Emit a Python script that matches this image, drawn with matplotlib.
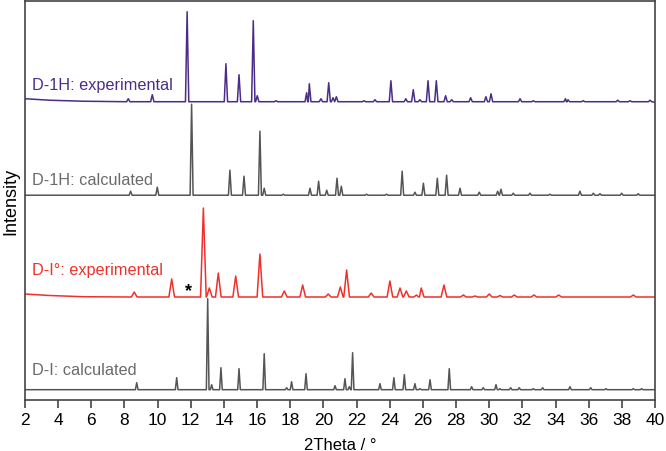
import numpy as np
import matplotlib.pyplot as plt

plt.rcParams['font.family'] = ['Liberation Sans', 'DejaVu Sans']

# ---- peak lists (2theta, height above baseline) ----
# D-1H experimental (purple)
d1h_exp_pos = [8.23, 9.68, 11.78, 14.12, 14.91, 15.77, 16.01, 17.14, 18.99, 19.15,
               19.85, 20.32, 20.58, 20.78, 22.45, 23.11, 24.07, 24.97, 25.42, 25.82,
               26.31, 26.81, 27.37, 27.74, 28.88, 29.80, 30.11, 31.86, 32.66, 34.60,
               34.75, 35.67, 37.75, 38.49, 39.70]
d1h_exp_h = [3, 7, 90, 38, 27, 81, 6, 1, 9, 18,
             3, 19, 4, 5, 1, 2, 21, 3, 12, 2,
             21, 21, 6, 2, 4, 5, 8, 3, 1, 3,
             2, 1, 1.5, 1, 1.5]
d1h_exp_bg_x = [2.0, 3.5, 5.5, 40.0]
d1h_exp_bg_y = [3.0, 1.5, 0.5, -0.5]

# D-1H calculated (grey)
d1h_calc_pos = [8.37, 9.98, 12.05, 14.36, 15.21, 16.17, 16.43, 17.58, 19.19, 19.71,
                20.20, 20.82, 21.08, 22.60, 23.81, 24.75, 25.52, 26.03, 26.87, 27.43,
                28.24, 29.40, 30.51, 30.71, 31.45, 32.46, 33.66, 35.47, 36.28, 36.68,
                37.99, 38.99]
d1h_calc_h = [4, 8, 91, 25, 19, 64, 7, 1, 7, 14,
              5, 17, 9, 1, 1, 24, 3, 12, 17, 20,
              7, 3, 4, 6, 2, 2, 1, 4, 2, 1.5,
              2, 1.5]

# D-I° experimental (red)
di_exp_pos = [8.59, 10.85, 12.76, 13.12, 13.66, 14.71, 16.17, 17.64, 18.75, 20.29,
              21.02, 21.40, 22.88, 24.01, 24.62, 25.00, 25.62, 25.90, 27.27, 28.44,
              29.14, 30.00, 30.65, 31.51, 32.70, 34.19, 38.69]
di_exp_h = [5, 18, 89, 9, 24, 21, 43, 6, 12, 3,
            10, 27, 4, 16, 9, 6, 2, 9, 12, 2,
            1, 3, 1.5, 2, 2, 2, 2]
di_exp_bg_x = [2.0, 3.5, 5.5, 40.0]
di_exp_bg_y = [3.0, 1.5, 0.3, 0.0]

# D-I calculated (grey)
di_calc_pos = [8.74, 11.15, 13.02, 13.26, 13.82, 14.91, 16.43, 17.78, 18.08, 18.95,
               20.70, 21.30, 21.56, 21.76, 23.41, 24.25, 24.88, 25.52, 25.82, 26.43,
               27.59, 28.94, 29.64, 30.41, 30.65, 31.29, 31.81, 32.66, 33.22, 34.87,
               36.12, 37.04, 38.69, 39.19]
di_calc_h = [7, 12, 91, 5, 22, 21, 36, 2, 8, 16,
             4, 11, 3, 37, 6, 12, 15, 6, 1, 10,
             21, 3, 2, 5, 1, 2, 2, 1, 2, 3,
             2, 1, 1, 1]

labels = ["D-1H: experimental", "D-1H: calculated", "D-I\u00b0: experimental", "D-I: calculated"]
baselines = [298, 204.5, 102.7, 10]
colors = ["#4b2d88", "#555555", "#f0302a", "#555555"]
text_colors = ["#4b2d88", "#6a6a6a", "#f0302a", "#6a6a6a"]
label_y = [315.5, 220.5, 130.5, 30.5]


def trace(pos, hts, base, w, bg_x=None, bg_y=None):
    pts = []
    for p, h in zip(pos, hts):
        pts += [(p - w, base), (p, base + h), (p + w, base)]
    if bg_x is None:
        bg_x, bg_y = [2.0, 40.0], [0.0, 0.0]
    for bx, by in zip(bg_x, bg_y):
        pts.append((bx, base + by))
    pts.sort()
    return [q[0] for q in pts], [q[1] for q in pts]


fig = plt.figure(figsize=(6.66, 4.52), dpi=100)
ax = fig.add_axes([0.0375, 0.1135, 0.946, 0.882])

series = [
    trace(d1h_exp_pos, d1h_exp_h, baselines[0], 0.10, d1h_exp_bg_x, d1h_exp_bg_y),
    trace(d1h_calc_pos, d1h_calc_h, baselines[1], 0.09),
    trace(di_exp_pos, di_exp_h, baselines[2], 0.17, di_exp_bg_x, di_exp_bg_y),
    trace(di_calc_pos, di_calc_h, baselines[3], 0.08),
]

for (xs, ys), c in zip(series, colors):
    ax.plot(xs, ys, color=c, lw=1.1)

for lab, ly, tc in zip(labels, label_y, text_colors):
    ax.text(2.45, ly, lab, color=tc, fontsize=11.7, va='center', ha='left')

ax.text(11.87, 109.0, "*", color="black", fontsize=13, fontweight='bold', ha='center', va='center')

ax.set_xlim(2, 40)
ax.set_ylim(0, 398.7)
ax.set_xticks(np.arange(2, 41, 2))
ax.set_yticks([])
ax.tick_params(axis='x', direction='out', length=6, width=1.2, labelsize=12.5, color='#444444', pad=3)
for s in ax.spines.values():
    s.set_color('#444444')
    s.set_linewidth(1.2)
ax.set_xlabel("2Theta / \u00b0", fontsize=12, labelpad=7)
ax.set_ylabel("Intensity", fontsize=13, labelpad=4)

fig.savefig("out.png", dpi=100)
